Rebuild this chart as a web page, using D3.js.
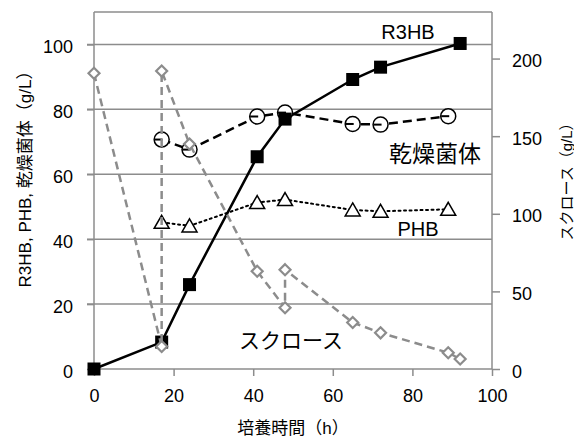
<!DOCTYPE html>
<html>
<head>
<meta charset="utf-8">
<script src="https://cdn.jsdelivr.net/npm/d3@7"></script>
<style>
  body { margin: 0; background: #fff; }
  text { font-family: "Liberation Sans", Arial, "Noto Sans CJK JP", sans-serif; fill: #000; }
</style>
</head>
<body>
<div id="chart"></div>
<script>
// Data
// ===========================
var r3hbTime = [0, 17, 24, 41, 48, 65, 72, 92];
var r3hbValue = [0, 8.3, 26, 65.4, 77, 89.2, 93, 100.3];

var cellTime = [17, 24, 41, 48, 65, 72, 89];
var cellValue = [70.7, 67.6, 77.8, 79, 75.5, 75.3, 77.9];

var phbTime = [17, 24, 41, 48, 65, 72, 89];
var phbValue = [45.2, 44.1, 51.3, 52.2, 49, 48.6, 49.2];

// sucrose (right axis) - feed events make it jump back up at 17 h and 48 h
var sucTime = [0, 17, 17, 24, 41, 48, 48, 65, 72, 89, 92];
var sucValue = [190.5, 14.5, 192, 145, 63, 39.5, 64, 30, 23.3, 10.5, 6.4];

var xTicks = [0, 20, 40, 60, 80, 100];
var yLeftTicks = [0, 20, 40, 60, 80, 100];
var yRightTicks = [0, 50, 100, 150, 200];

// Setup
// ===========================
var width = 574, height = 437;
var plotLeft = 94, plotRight = 492, plotTop = 12, plotBottom = 369;

var svg = d3.select("#chart").append("svg")
  .attr("width", width)
  .attr("height", height);

var xScale = d3.scaleLinear().domain([0, 100]).range([plotLeft, plotRight]);
var yLeft = d3.scaleLinear().domain([0, 110]).range([plotBottom, plotTop]);
var yRight = d3.scaleLinear().domain([0, 230]).range([plotBottom, plotTop]);

var axisColor = "#8c8c8c";

// gridlines (also act as the left ticks)
svg.append("g")
  .selectAll("line")
  .data(yLeftTicks.filter(function(d) { return d > 0; }))
  .enter().append("line")
  .attr("x1", plotLeft - 7).attr("x2", plotRight)
  .attr("y1", function(d) { return yLeft(d); })
  .attr("y2", function(d) { return yLeft(d); })
  .attr("stroke", axisColor)
  .attr("stroke-width", 1.5);

// plot frame top
svg.append("line")
  .attr("x1", plotLeft).attr("x2", plotRight)
  .attr("y1", plotTop).attr("y2", plotTop)
  .attr("stroke", axisColor).attr("stroke-width", 1.5);

// Axes
// ===========================
var xAxis = d3.axisBottom(xScale).tickValues(xTicks).tickSize(7).tickPadding(13);
var gx = svg.append("g")
  .attr("transform", "translate(0," + plotBottom + ")")
  .call(xAxis);

var yAxisL = d3.axisLeft(yLeft).tickValues(yLeftTicks).tickSize(7).tickPadding(14);
var gyl = svg.append("g")
  .attr("transform", "translate(" + plotLeft + ",0)")
  .call(yAxisL);

var yAxisR = d3.axisRight(yRight).tickValues(yRightTicks).tickSize(8).tickPadding(12);
var gyr = svg.append("g")
  .attr("transform", "translate(" + plotRight + ",0)")
  .call(yAxisR);

[gx, gyl, gyr].forEach(function(g) {
  g.select(".domain").attr("stroke", axisColor).attr("stroke-width", 1.5);
  g.selectAll(".tick line").attr("stroke", axisColor).attr("stroke-width", 1.5);
  g.selectAll(".tick text").style("font-size", "18px").attr("fill", "#000");
});
// y tick labels sit a touch below their gridline
gyl.selectAll(".tick text").attr("dy", "0.45em");
gyr.selectAll(".tick text").attr("dy", "0.45em");
// plain domain paths (no outer ticks)
gx.select(".domain").attr("d", "M" + plotLeft + ",0H" + plotRight);
gyl.select(".domain").attr("d", "M0," + plotTop + "V" + plotBottom);
gyr.select(".domain").attr("d", "M0," + plotTop + "V" + plotBottom);

// Lines
// ===========================
function series(times, values, y) {
  return times.map(function(t, i) { return [xScale(t), y(values[i])]; });
}
var line = d3.line();

var r3hb = series(r3hbTime, r3hbValue, yLeft);
var cells = series(cellTime, cellValue, yLeft);
var phb = series(phbTime, phbValue, yLeft);
var suc = series(sucTime, sucValue, yRight);

svg.append("path").attr("d", line(phb))
  .attr("fill", "none").attr("stroke", "#000").attr("stroke-width", 2)
  .attr("stroke-dasharray", "2,3.5").attr("stroke-linecap", "round");

svg.append("path").attr("d", line(cells))
  .attr("fill", "none").attr("stroke", "#000").attr("stroke-width", 2.5)
  .attr("stroke-dasharray", "9,5");

svg.append("path").attr("d", line(r3hb))
  .attr("fill", "none").attr("stroke", "#000").attr("stroke-width", 2.5);

// markers
svg.append("g").selectAll("path").data(phb).enter().append("path")
  .attr("d", function(d) {
    return "M" + d[0] + "," + (d[1] - 7) + "L" + (d[0] + 7.5) + "," + (d[1] + 6) + "L" + (d[0] - 7.5) + "," + (d[1] + 6) + "Z";
  })
  .attr("fill", "#fff").attr("stroke", "#000").attr("stroke-width", 1.5);

svg.append("g").selectAll("circle").data(cells).enter().append("circle")
  .attr("cx", function(d) { return d[0]; })
  .attr("cy", function(d) { return d[1]; })
  .attr("r", 7.5)
  .attr("fill", "#fff").attr("stroke", "#000").attr("stroke-width", 1.5);

// the dashed line runs into the open circles
svg.append("g").selectAll("line").data(cells).enter().append("line")
  .attr("x1", function(d) { return d[0] - 7; })
  .attr("x2", function(d) { return d[0] + 1; })
  .attr("y1", function(d) { return d[1]; })
  .attr("y2", function(d) { return d[1]; })
  .attr("stroke", "#000").attr("stroke-width", 2);

svg.append("g").selectAll("rect").data(r3hb).enter().append("rect")
  .attr("x", function(d) { return d[0] - 6.5; })
  .attr("y", function(d) { return d[1] - 6.5; })
  .attr("width", 13).attr("height", 13)
  .attr("fill", "#000");

svg.append("path").attr("d", line(suc))
  .attr("fill", "none").attr("stroke", "#8c8c8c").attr("stroke-width", 2.5)
  .attr("stroke-dasharray", "8,5");

svg.append("g").selectAll("path").data(suc).enter().append("path")
  .attr("d", function(d) {
    return "M" + d[0] + "," + (d[1] - 5.5) + "L" + (d[0] + 5.5) + "," + d[1] + "L" + d[0] + "," + (d[1] + 5.5) + "L" + (d[0] - 5.5) + "," + d[1] + "Z";
  })
  .attr("fill", "#fff").attr("stroke", "#8c8c8c").attr("stroke-width", 2.2);

// Labels
// ===========================
svg.append("text").attr("x", 408).attr("y", 39).attr("text-anchor", "middle")
  .style("font-size", "20px").text("R3HB");
svg.append("text").attr("x", 435).attr("y", 162).attr("text-anchor", "middle")
  .style("font-size", "23px").text("乾燥菌体");
svg.append("text").attr("x", 418).attr("y", 236).attr("text-anchor", "middle")
  .style("font-size", "20px").text("PHB");
svg.append("text").attr("x", 291).attr("y", 348).attr("text-anchor", "middle")
  .style("font-size", "21px").text("スクロース");

// axis titles
svg.append("text").attr("x", 293).attr("y", 434).attr("text-anchor", "middle")
  .style("font-size", "17px").text("培養時間（h）");
svg.append("text")
  .attr("transform", "translate(31,175) rotate(-90)")
  .attr("text-anchor", "middle")
  .style("font-size", "17px").text("R3HB, PHB, 乾燥菌体（g/L）");
svg.append("text")
  .attr("transform", "translate(572,178) rotate(-90)")
  .attr("text-anchor", "middle")
  .style("font-size", "15px").text("スクロース（g/L）");
</script>
</body>
</html>
